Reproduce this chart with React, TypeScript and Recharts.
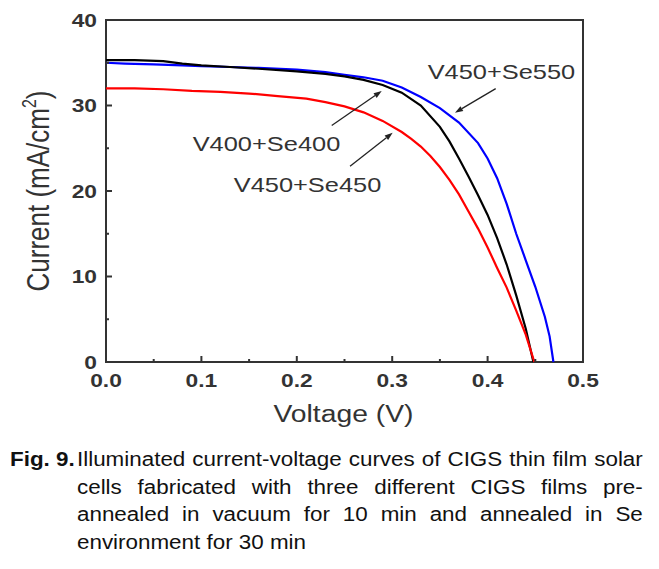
import { LineChart, Line, XAxis, YAxis, ReferenceArea, ReferenceLine, ReferenceDot } from "recharts";

// I-V curves (voltage in V, current in mA/cm2)
const se550Voltage = [0, 0.02, 0.05, 0.08, 0.1, 0.13, 0.16, 0.2, 0.23, 0.25, 0.27, 0.29, 0.31, 0.33, 0.35, 0.37, 0.39, 0.4, 0.41, 0.42, 0.43, 0.44, 0.45, 0.46, 0.465, 0.469];
const se550Current = [35.0, 34.9, 34.8, 34.7, 34.6, 34.5, 34.4, 34.2, 33.9, 33.6, 33.3, 32.9, 32.1, 31.0, 29.7, 28.0, 25.6, 23.8, 21.5, 18.5, 15.0, 11.9, 8.8, 5.3, 3.0, 0];

const se400Voltage = [0, 0.03, 0.06, 0.08, 0.1, 0.13, 0.16, 0.2, 0.23, 0.25, 0.27, 0.29, 0.31, 0.33, 0.35, 0.36, 0.37, 0.38, 0.39, 0.4, 0.41, 0.42, 0.43, 0.44, 0.448];
const se400Current = [35.3, 35.3, 35.2, 34.9, 34.7, 34.5, 34.3, 34.0, 33.7, 33.4, 33.0, 32.4, 31.5, 30.0, 27.5, 25.8, 23.8, 21.7, 19.5, 17.2, 14.5, 11.4, 7.8, 3.9, 0];

const se450Voltage = [0, 0.03, 0.06, 0.09, 0.12, 0.15, 0.18, 0.21, 0.23, 0.25, 0.27, 0.29, 0.31, 0.32, 0.33, 0.34, 0.35, 0.36, 0.37, 0.38, 0.39, 0.4, 0.41, 0.42, 0.43, 0.44, 0.449];
const se450Current = [32.0, 32.0, 31.9, 31.7, 31.6, 31.4, 31.1, 30.8, 30.4, 29.9, 29.2, 28.2, 26.9, 26.1, 25.2, 24.1, 22.8, 21.3, 19.6, 17.6, 15.6, 13.4, 11.0, 8.7, 6.0, 3.2, 0];

const xTicks = [0, 0.05, 0.1, 0.15, 0.2, 0.25, 0.3, 0.35, 0.4, 0.45, 0.5];
const yTicks = [0, 5, 10, 15, 20, 25, 30, 35, 40];

// annotation labels and arrows, in data coordinates
const labelNames = ["V450+Se550", "V400+Se400", "V450+Se450"];
const labelV = [0.4145, 0.1682, 0.2112];
const labelI = [33.06, 24.65, 19.85];
const arrowFromV = [0.4085, 0.2366, 0.2558];
const arrowFromI = [31.97, 27.67, 22.9];
const arrowToV = [0.3658, 0.289, 0.3005];
const arrowToI = [29.16, 31.69, 26.8];

const toPoints = (v: number[], i: number[]) => v.map((x, k) => ({ v: x, i: i[k] }));
const se550 = toPoints(se550Voltage, se550Current);
const se400 = toPoints(se400Voltage, se400Current);
const se450 = toPoints(se450Voltage, se450Current);

const FONT = '"Liberation Sans", Arial, sans-serif';
const INK = "#333";
const STRETCH = 1.23;

function XTick(props: any) {
  const { x, y, payload } = props;
  const v = payload.value as number;
  const major = Math.round(v * 100) % 10 === 0;
  return (
    <g>
      <line x1={x} x2={x} y1={y} y2={y - (major ? 6 : 3)} stroke={INK} strokeWidth={2} />
      {major && (
        <text
          transform={`translate(${x},${y + 24.5}) scale(${STRETCH},1)`}
          textAnchor="middle"
          fontFamily={FONT}
          fontWeight="bold"
          fontSize={18.5}
          fill={INK}
        >
          {v.toFixed(1)}
        </text>
      )}
    </g>
  );
}

function YTick(props: any) {
  const { x, y, payload } = props;
  const v = payload.value as number;
  const major = v % 10 === 0;
  return (
    <g>
      <line x1={x} x2={x + (major ? 6 : 3)} y1={y} y2={y} stroke={INK} strokeWidth={2} />
      {major && (
        <text
          transform={`translate(${x - 9},${y + 6.6}) scale(${STRETCH},1)`}
          textAnchor="end"
          fontFamily={FONT}
          fontWeight="bold"
          fontSize={18.5}
          fill={INK}
        >
          {v}
        </text>
      )}
    </g>
  );
}

const arrowShape = (p: any) => {
  const { x1, y1, x2, y2 } = p;
  const ang = Math.atan2(y2 - y1, x2 - x1);
  const len = 8;
  const hw = 2.8;
  const bx = x2 - len * Math.cos(ang);
  const by = y2 - len * Math.sin(ang);
  const nx = -Math.sin(ang) * hw;
  const ny = Math.cos(ang) * hw;
  return (
    <g>
      <line x1={x1} y1={y1} x2={bx} y2={by} stroke="#222" strokeWidth={1.3} />
      <polygon points={`${x2},${y2} ${bx + nx},${by + ny} ${bx - nx},${by - ny}`} fill="#222" />
    </g>
  );
};

const captionLine: React.CSSProperties = {
  textAlign: "justify",
  textAlignLast: "justify",
  whiteSpace: "nowrap",
  height: 27.6,
};

export default function App() {
  return (
    <div style={{ position: "absolute", left: 0, top: 0, width: 659, height: 569, background: "#fff" }}>
      <LineChart width={659} height={440} margin={{ top: 20, right: 76, bottom: 48, left: 46 }}>
        <XAxis
          type="number"
          dataKey="v"
          domain={[0, 0.5]}
          ticks={xTicks}
          interval={0}
          height={30}
          axisLine={false}
          tickLine={false}
          tickSize={0}
          tickMargin={0}
          tick={<XTick />}
          label={{
            content: (p: any) => {
              const vb = p.viewBox;
              return (
                <text
                  transform={`translate(${vb.x + vb.width / 2 - 1},${vb.y + 60}) scale(${STRETCH},1)`}
                  textAnchor="middle"
                  fontFamily={FONT}
                  fontSize={23}
                  fill={INK}
                >
                  Voltage (V)
                </text>
              );
            },
          }}
        />
        <YAxis
          type="number"
          dataKey="i"
          domain={[0, 40]}
          ticks={yTicks}
          interval={0}
          width={60}
          axisLine={false}
          tickLine={false}
          tickSize={0}
          tickMargin={0}
          tick={<YTick />}
          label={{
            content: (p: any) => {
              const vb = p.viewBox;
              return (
                <text
                  transform={`translate(${vb.x + 2.5},${vb.y + vb.height / 2}) rotate(-90) scale(1,${STRETCH})`}
                  textAnchor="middle"
                  fontFamily={FONT}
                  fontSize={26}
                  fill={INK}
                >
                  <tspan>Current (mA/cm</tspan>
                  <tspan dy={-10} fontSize={16}>2</tspan>
                  <tspan dy={10}>)</tspan>
                </text>
              );
            },
          }}
        />
        <ReferenceArea x1={0} x2={0.5} y1={0} y2={40} fill="none" fillOpacity={0} stroke={INK} strokeWidth={2} ifOverflow="visible" />
        <Line data={se550} dataKey="i" type="linear" stroke="#0000ff" strokeWidth={2.2} dot={false} isAnimationActive={false} />
        <Line data={se400} dataKey="i" type="linear" stroke="#000000" strokeWidth={2.2} dot={false} isAnimationActive={false} />
        <Line data={se450} dataKey="i" type="linear" stroke="#ff0000" strokeWidth={2.2} dot={false} isAnimationActive={false} />
        {labelNames.map((_, k) => (
          <ReferenceLine
            key={`arrow-${k}`}
            segment={[
              { x: arrowFromV[k], y: arrowFromI[k] },
              { x: arrowToV[k], y: arrowToI[k] },
            ]}
            ifOverflow="visible"
            shape={arrowShape}
          />
        ))}
        {labelNames.map((name, k) => (
          <ReferenceDot
            key={`label-${k}`}
            x={labelV[k]}
            y={labelI[k]}
            r={0}
            ifOverflow="visible"
            shape={(p: any) => (
              <text
                transform={`translate(${p.cx},${p.cy}) scale(1.21,1)`}
                textAnchor="middle"
                fontFamily={FONT}
                fontSize={21}
                fill={INK}
              >
                {name}
              </text>
            )}
          />
        ))}
      </LineChart>
      <div
        style={{
          position: "absolute",
          left: 10,
          top: 446,
          width: 565,
          transform: "scale(1.12,1)",
          transformOrigin: "left top",
          fontFamily: FONT,
          fontSize: 20,
          lineHeight: "27.6px",
          color: "#111",
        }}
      >
        <div style={{ display: "flex" }}>
          <span style={{ fontWeight: "bold", width: 59.8, flex: "none" }}>Fig. 9.</span>
          <div style={{ ...captionLine, flex: 1 }}>Illuminated current-voltage curves of CIGS thin film solar</div>
        </div>
        <div style={{ ...captionLine, paddingLeft: 59.8 }}>cells fabricated with three different CIGS films pre-</div>
        <div style={{ ...captionLine, paddingLeft: 59.8 }}>annealed in vacuum for 10 min and annealed in Se</div>
        <div style={{ paddingLeft: 59.8, whiteSpace: "nowrap" }}>environment for 30 min</div>
      </div>
    </div>
  );
}
